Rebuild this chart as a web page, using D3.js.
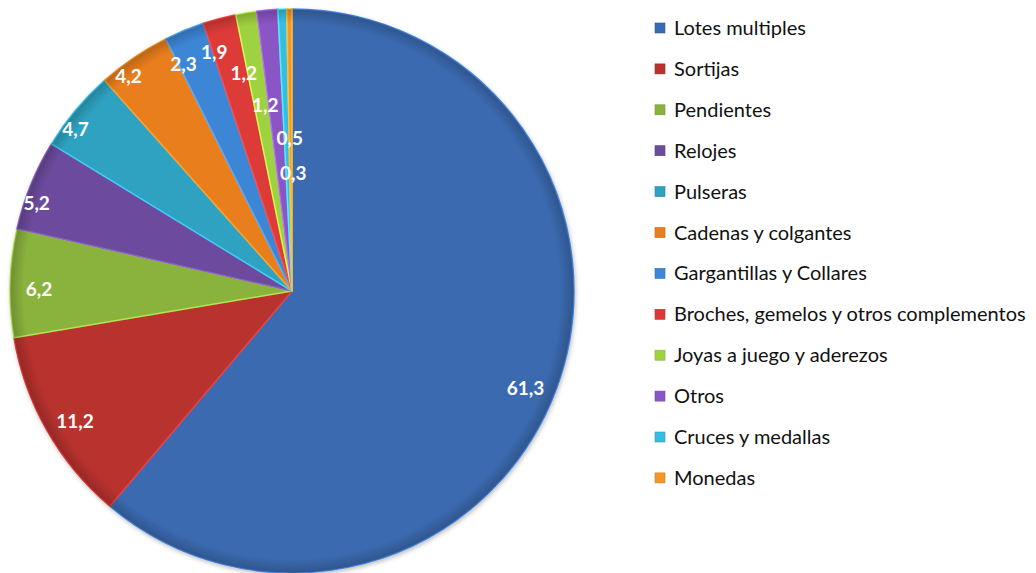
<!DOCTYPE html>
<html>
<head>
<meta charset="utf-8">
<script src="https://cdn.jsdelivr.net/npm/d3@7"></script>
<style>
  body { margin: 0; background: #fff; }
  svg text { font-family: Lato, "Open Sans", sans-serif; }
</style>
</head>
<body>
<div id="chart"></div>
<script>
// categories, in the order of the slices and the legend
var categories = ["Lotes multiples", "Sortijas", "Pendientes", "Relojes", "Pulseras",
  "Cadenas y colgantes", "Gargantillas y Collares", "Broches, gemelos y otros complementos",
  "Joyas a juego y aderezos", "Otros", "Cruces y medallas", "Monedas"];
var values = [61.3, 11.2, 6.2, 5.2, 4.7, 4.2, 2.3, 1.9, 1.2, 1.2, 0.5, 0.3];
var colors = ["#3a6bb0", "#b8322f", "#8ab33e", "#6c4c9e", "#2ea2c0", "#e87e1f",
  "#3e86d6", "#dc3a38", "#9fd23f", "#8a55c4", "#38bde0", "#f5962a"];

var width = 1036, height = 573;
var cx = 292, cy = 291, radius = 282;

var svg = d3.select("#chart").append("svg")
  .attr("width", width)
  .attr("height", height);

var defs = svg.append("defs");
var shadow = defs.append("filter").attr("id", "shadow")
  .attr("x", "-10%").attr("y", "-10%").attr("width", "120%").attr("height", "120%");
shadow.append("feDropShadow")
  .attr("dx", 1).attr("dy", 2).attr("stdDeviation", 2)
  .attr("flood-color", "#000").attr("flood-opacity", 0.25);

// dark rim like the bevel of the original
var bevel = defs.append("radialGradient").attr("id", "bevel")
  .attr("gradientUnits", "userSpaceOnUse")
  .attr("cx", 0).attr("cy", 0).attr("r", radius);
bevel.append("stop").attr("offset", "0%").attr("stop-color", "#000").attr("stop-opacity", 0);
bevel.append("stop").attr("offset", "95%").attr("stop-color", "#000").attr("stop-opacity", 0);
bevel.append("stop").attr("offset", "100%").attr("stop-color", "#000").attr("stop-opacity", 0.2);

var fmt = d3.formatLocale({decimal: ",", thousands: ".", grouping: [3], currency: ["", "€"]}).format(".1f");

var pie = d3.pie().sort(null).value(d => d)(values);
var arc = d3.arc().innerRadius(0).outerRadius(radius);

var g = svg.append("g")
  .attr("transform", "translate(" + cx + "," + cy + ")");

var slices = g.append("g").attr("filter", "url(#shadow)");
slices.selectAll("path.slice")
  .data(pie)
  .enter().append("path")
    .attr("class", "slice")
    .attr("d", arc)
    .attr("fill", (d, i) => colors[i])
    .attr("stroke", (d, i) => d3.color(colors[i]).brighter(0.7))
    .attr("stroke-width", 1.5)
    .attr("stroke-linejoin", "round");

g.selectAll("path.shade")
  .data(pie)
  .enter().append("path")
    .attr("class", "shade")
    .attr("d", arc)
    .attr("fill", "url(#bevel)");

// label placement: big slices near the rim, thin ones at the end stacked inward
function labelRadius(i) {
  if (i < 3) return 253;
  if (i < 6) return 270;
  if (i < 8) return 251;
  return 223 - (i - 8) * 35;
}
function labelNudge(i) {
  if (i === 0) return 0.045;
  if (i < 3) return -0.022;
  if (i < 10) return -0.055;
  return 0.02;
}

g.selectAll("text.label")
  .data(pie)
  .enter().append("text")
    .attr("class", "label")
    .attr("transform", function(d, i) {
      var a = (d.startAngle + d.endAngle) / 2 + labelNudge(i);
      var r = labelRadius(i);
      return "translate(" + (Math.sin(a) * r) + "," + (-Math.cos(a) * r) + ")";
    })
    .attr("text-anchor", "middle")
    .attr("dy", "0.35em")
    .style("font-size", "19px")
    .style("font-weight", "bold")
    .attr("fill", "#fff")
    .text(d => fmt(d.data));

// legend
var legend = svg.append("g").attr("transform", "translate(655,28)");
var row = legend.selectAll("g")
  .data(categories)
  .enter().append("g")
    .attr("transform", (d, i) => "translate(0," + (i * 40.9) + ")");
row.append("rect")
  .attr("x", 0).attr("y", -5)
  .attr("width", 10).attr("height", 10)
  .attr("fill", (d, i) => colors[i])
  .attr("stroke", (d, i) => d3.color(colors[i]).darker(0.5))
  .attr("stroke-width", 0.6);
row.append("text")
  .attr("x", 19)
  .attr("dy", "0.35em")
  .style("font-size", "20px")
  .attr("fill", "#111")
  .text(d => d);
</script>
</body>
</html>
